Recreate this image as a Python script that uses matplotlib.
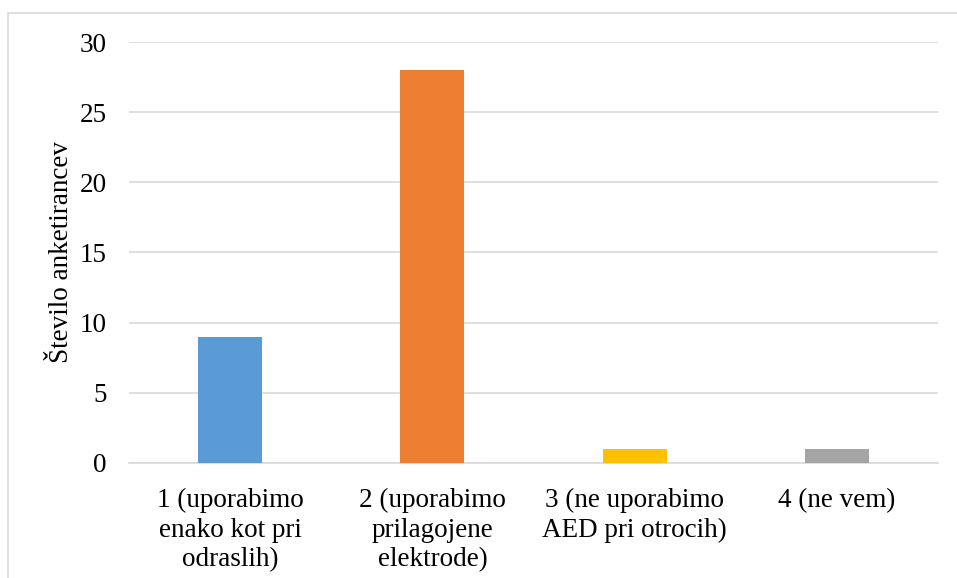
import matplotlib
matplotlib.use("Agg")
import matplotlib.pyplot as plt
from matplotlib.patches import Rectangle

# Survey answers and number of respondents per answer
categories = [
    "1 (uporabimo\nenako kot pri\nodraslih)",
    "2 (uporabimo\nprilagojene\nelektrode)",
    "3 (ne uporabimo\nAED pri otrocih)",
    "4 (ne vem)",
]
counts = [9, 28, 1, 1]
colors = ["#5B9BD5", "#ED7D31", "#FFC000", "#A5A5A5"]
yticks = [0, 5, 10, 15, 20, 25, 30]

plt.rcParams["font.family"] = ["Liberation Serif", "DejaVu Serif"]

fig = plt.figure(figsize=(9.57, 5.78), dpi=100)
ax = fig.add_axes([0.1348, 0.199, 0.8454, 0.7283])

x = range(len(categories))
ax.bar(x, counts, width=0.316, color=colors, zorder=3)

ax.set_xlim(-0.5, len(categories) - 0.5)
ax.set_ylim(0, 30)
ax.set_yticks(yticks)
ax.set_xticks(list(x))
ax.set_xticklabels(categories, fontsize=19.5, linespacing=1.24, color="#000000")
ax.tick_params(axis="y", labelsize=19.5, length=0, pad=16)
ax.tick_params(axis="x", length=0, pad=18)

ax.grid(axis="y", color="#D9D9D9", linewidth=1.2, zorder=0)
for side in ["top", "right", "left"]:
    ax.spines[side].set_visible(False)
ax.spines["bottom"].set_color("#D9D9D9")
ax.spines["bottom"].set_linewidth(1.2)

ax.set_ylabel("Število anketirancev", fontsize=19.5, labelpad=4)

# chart frame
fig.patches.append(Rectangle((8 / 957, -0.05), 1.2, 1 - 13 / 578 + 0.05,
                             transform=fig.transFigure, fill=False,
                             edgecolor="#D9D9D9", linewidth=1.2))

fig.savefig("out.png", dpi=100)
